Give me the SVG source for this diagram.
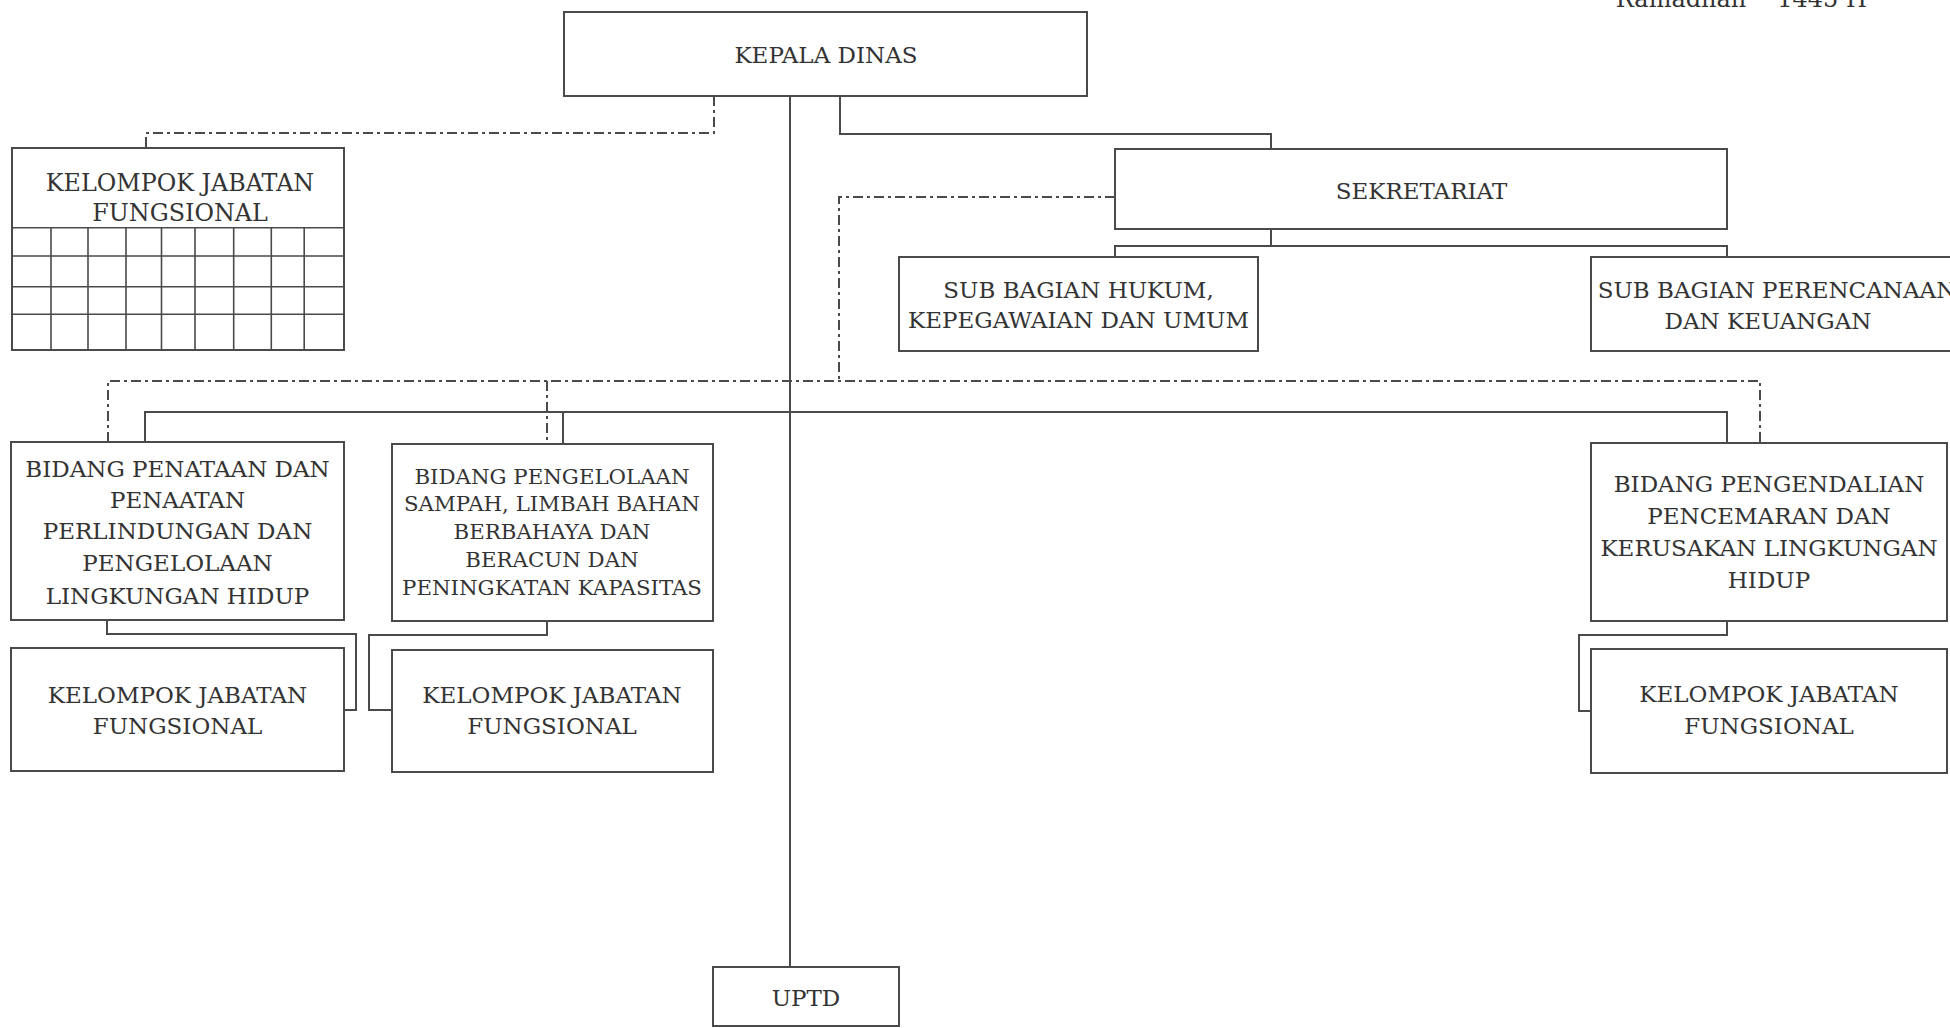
<svg xmlns="http://www.w3.org/2000/svg" width="1950" height="1028" viewBox="0 0 1950 1028">
<style>
.box{fill:#fff;stroke:#4a4a4a;stroke-width:2}
.ln{fill:none;stroke:#4a4a4a;stroke-width:2}
.dash{fill:none;stroke:#4a4a4a;stroke-width:2;stroke-dasharray:10 4 3 4}
.grid{fill:none;stroke:#4a4a4a;stroke-width:1.6}
text{font-family:"DejaVu Serif","Liberation Serif",serif;font-size:23px;fill:#333;text-anchor:middle}
.sm{font-size:21.3px}
.kj{font-size:23.8px}
.hd{font-size:24px}
</style>
<rect width="1950" height="1028" fill="#fff"/>
<text class="hd" x="1681" y="7">Ramadhan</text>
<text class="hd" x="1822" y="7">1445 H</text>
<g id="connectors">
<path class="dash" d="M714,96 V133 H146 V148"/>
<path class="dash" d="M1115,197 H839 V381"/>
<path class="dash" d="M108,442 V381 H1760 V443"/>
<path class="dash" d="M547,381 V444"/>
<path class="ln" d="M790,96 V967"/>
<path class="ln" d="M840,96 V134 H1271 V149"/>
<path class="ln" d="M1271,229 V246"/>
<path class="ln" d="M1115,257 V246 H1727 V257"/>
<path class="ln" d="M145,442 V412 H1727 V443"/>
<path class="ln" d="M563,412 V444"/>
<path class="ln" d="M107,620 V634 H356 V710 H344"/>
<path class="ln" d="M547,621 V635 H369 V710 H392"/>
<path class="ln" d="M1727,621 V635 H1579 V711 H1591"/>
</g>
<g id="kepala-dinas">
<rect class="box" x="564" y="12" width="523" height="84"/>
<text x="826" y="63">KEPALA DINAS</text>
</g>
<g id="kjf-top">
<rect class="box" x="12" y="148" width="332" height="202"/>
<path class="grid" d="M12,227.7 H344 M12,256 H344 M12,286.7 H344 M12,314.3 H344 M51,227.7 V350 M88,227.7 V350 M126,227.7 V350 M161.5,227.7 V350 M195,227.7 V350 M233.7,227.7 V350 M271.3,227.7 V350 M304.2,227.7 V350"/>
<text class="kj" x="180" y="191">KELOMPOK JABATAN</text>
<text class="kj" x="180" y="221">FUNGSIONAL</text>
</g>
<g id="sekretariat">
<rect class="box" x="1115" y="149" width="612" height="80"/>
<text x="1421.5" y="198.5">SEKRETARIAT</text>
</g>
<g id="subbag-hukum">
<rect class="box" x="899" y="257" width="359" height="94"/>
<text x="1078.5" y="298">SUB BAGIAN HUKUM,</text>
<text x="1078.5" y="328">KEPEGAWAIAN DAN UMUM</text>
</g>
<g id="subbag-perencanaan">
<rect class="box" x="1591" y="257" width="364" height="94"/>
<text x="1777" y="298">SUB BAGIAN PERENCANAAN</text>
<text x="1768" y="329">DAN KEUANGAN</text>
</g>
<g id="bidang-penataan">
<rect class="box" x="11" y="442" width="333" height="178"/>
<text x="177.5" y="477">BIDANG PENATAAN DAN</text>
<text x="177.5" y="507.5">PENAATAN</text>
<text x="177.5" y="539">PERLINDUNGAN DAN</text>
<text x="177.5" y="571">PENGELOLAAN</text>
<text x="177.5" y="604">LINGKUNGAN HIDUP</text>
</g>
<g id="bidang-pengelolaan">
<rect class="box" x="392" y="444" width="321" height="177"/>
<text class="sm" x="552" y="483.6">BIDANG PENGELOLAAN</text>
<text class="sm" x="552" y="511.3">SAMPAH, LIMBAH BAHAN</text>
<text class="sm" x="552" y="538.6">BERBAHAYA DAN</text>
<text class="sm" x="552" y="567.2">BERACUN DAN</text>
<text class="sm" x="552" y="594.6">PENINGKATAN KAPASITAS</text>
</g>
<g id="bidang-pengendalian">
<rect class="box" x="1591" y="443" width="356" height="178"/>
<text x="1769" y="492">BIDANG PENGENDALIAN</text>
<text x="1769" y="524">PENCEMARAN DAN</text>
<text x="1769" y="556">KERUSAKAN LINGKUNGAN</text>
<text x="1769" y="588">HIDUP</text>
</g>
<g id="kjf-1">
<rect class="box" x="11" y="648" width="333" height="123"/>
<text x="177.5" y="702.5">KELOMPOK JABATAN</text>
<text x="177.5" y="734">FUNGSIONAL</text>
</g>
<g id="kjf-2">
<rect class="box" x="392" y="650" width="321" height="122"/>
<text x="552" y="703">KELOMPOK JABATAN</text>
<text x="552" y="734">FUNGSIONAL</text>
</g>
<g id="kjf-3">
<rect class="box" x="1591" y="649" width="356" height="124"/>
<text x="1769" y="702">KELOMPOK JABATAN</text>
<text x="1769" y="734">FUNGSIONAL</text>
</g>
<g id="uptd">
<rect class="box" x="713" y="967" width="186" height="59"/>
<text x="806" y="1006">UPTD</text>
</g>
</svg>
